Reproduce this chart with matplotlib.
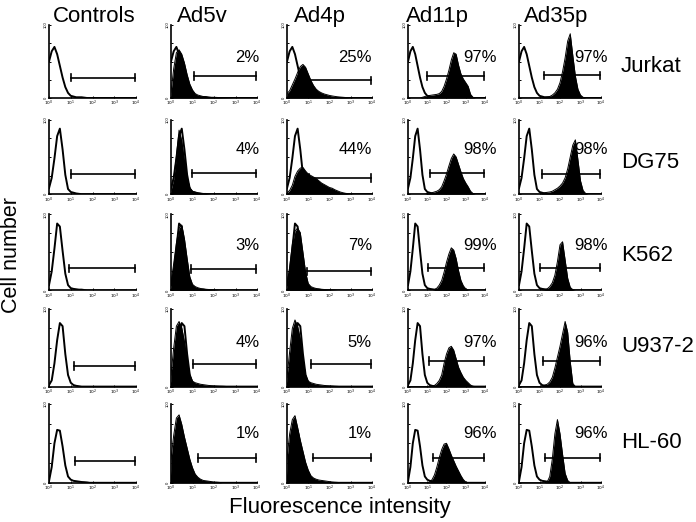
import numpy as np
import matplotlib
matplotlib.use("Agg")
import matplotlib.pyplot as plt

plt.rcParams['font.family'] = ['Liberation Sans', 'DejaVu Sans']

# ---------------- data ----------------
columns = ["Controls", "Ad5v", "Ad4p", "Ad11p", "Ad35p"]
cell_lines = ["Jurkat", "DG75", "K562", "U937-2", "HL-60"]

# histogram heights (fraction of full scale) at log10 fluorescence 0, 0.125, ... 4.0
jurkat_control = [0.50, 0.64, 0.70, 0.60, 0.44, 0.28, 0.15, 0.07,
                  0.03, 0.02, 0.01, 0.01, 0.01, 0.005, 0, 0,
                  0, 0, 0, 0, 0, 0, 0, 0,
                  0, 0, 0, 0, 0, 0, 0, 0, 0]
jurkat_ad5v = [0.08, 0.40, 0.62, 0.66, 0.60, 0.48, 0.32, 0.19,
               0.11, 0.06, 0.04, 0.03, 0.02, 0.02, 0.015, 0.01,
               0.01, 0.008, 0.006, 0.005, 0.004, 0.003, 0.002, 0,
               0, 0, 0, 0, 0, 0, 0, 0, 0]
jurkat_ad4p = [0.06, 0.10, 0.18, 0.26, 0.35, 0.43, 0.46, 0.42,
               0.33, 0.24, 0.17, 0.12, 0.09, 0.07, 0.055, 0.045,
               0.035, 0.028, 0.022, 0.017, 0.013, 0.01, 0.007, 0.005,
               0.003, 0, 0, 0, 0, 0, 0, 0, 0]
jurkat_ad11p = [0, 0, 0, 0, 0, 0, 0.01, 0.02,
                0.03, 0.035, 0.04, 0.045, 0.05, 0.06, 0.09, 0.16,
                0.26, 0.38, 0.52, 0.62, 0.60, 0.45, 0.33, 0.26,
                0.21, 0.16, 0.05, 0.01, 0, 0, 0, 0, 0]
jurkat_ad35p = [0, 0, 0, 0, 0, 0, 0, 0,
                0, 0.005, 0.01, 0.015, 0.02, 0.04, 0.07, 0.12,
                0.21, 0.36, 0.55, 0.78, 0.88, 0.58, 0.30, 0.12,
                0.04, 0.01, 0, 0, 0, 0, 0, 0, 0]

dg75_control = [0.08, 0.22, 0.48, 0.78, 0.88, 0.60, 0.26, 0.07,
                0.03, 0.02, 0.01, 0.005, 0, 0, 0, 0,
                0, 0, 0, 0, 0, 0, 0, 0,
                0, 0, 0, 0, 0, 0, 0, 0, 0]
dg75_ad5v = [0.05, 0.20, 0.50, 0.86, 0.72, 0.45, 0.22, 0.09,
             0.04, 0.03, 0.02, 0.015, 0.01, 0.01, 0.005, 0,
             0, 0, 0, 0, 0, 0, 0, 0,
             0, 0, 0, 0, 0, 0, 0, 0, 0]
dg75_ad4p = [0.02, 0.05, 0.12, 0.24, 0.31, 0.35, 0.36, 0.31,
             0.27, 0.25, 0.23, 0.21, 0.18, 0.15, 0.13, 0.11,
             0.09, 0.08, 0.06, 0.045, 0.03, 0.02, 0.012, 0.007,
             0.004, 0, 0, 0, 0, 0, 0, 0, 0]
dg75_ad11p = [0, 0, 0, 0, 0, 0, 0, 0,
              0.01, 0.015, 0.02, 0.03, 0.04, 0.06, 0.10, 0.18,
              0.27, 0.38, 0.48, 0.54, 0.50, 0.40, 0.30, 0.21,
              0.15, 0.10, 0.04, 0.01, 0, 0, 0, 0, 0]
dg75_ad35p = [0, 0, 0, 0, 0, 0, 0, 0,
              0, 0.01, 0.02, 0.025, 0.03, 0.04, 0.06, 0.08,
              0.11, 0.15, 0.22, 0.34, 0.50, 0.66, 0.73, 0.46,
              0.18, 0.05, 0.01, 0, 0, 0, 0, 0, 0]

k562_control = [0.07, 0.25, 0.55, 0.88, 0.84, 0.52, 0.22, 0.07,
                0.03, 0.02, 0.015, 0.01, 0.01, 0.005, 0, 0,
                0, 0, 0, 0, 0, 0, 0, 0,
                0, 0, 0, 0, 0, 0, 0, 0, 0]
k562_ad5v = [0.10, 0.35, 0.62, 0.82, 0.86, 0.68, 0.42, 0.18,
             0.08, 0.05, 0.035, 0.025, 0.02, 0.015, 0.012, 0.01,
             0.008, 0.005, 0, 0, 0, 0, 0, 0,
             0, 0, 0, 0, 0, 0, 0, 0, 0]
k562_ad4p = [0.08, 0.30, 0.60, 0.78, 0.82, 0.76, 0.50, 0.24,
             0.09, 0.05, 0.035, 0.025, 0.02, 0.015, 0.012, 0.01,
             0.008, 0.006, 0.004, 0, 0, 0, 0, 0,
             0, 0, 0, 0, 0, 0, 0, 0, 0]
k562_ad11p = [0, 0, 0, 0, 0, 0, 0, 0,
              0, 0, 0, 0.01, 0.03, 0.07, 0.13, 0.24,
              0.37, 0.48, 0.56, 0.53, 0.42, 0.26, 0.13, 0.06,
              0.02, 0.005, 0, 0, 0, 0, 0, 0, 0]
k562_ad35p = [0, 0, 0, 0, 0, 0, 0, 0,
              0, 0.005, 0.01, 0.02, 0.05, 0.10, 0.20, 0.38,
              0.60, 0.64, 0.40, 0.16, 0.04, 0.01, 0, 0,
              0, 0, 0, 0, 0, 0, 0, 0, 0]

u937_control = [0.02, 0.08, 0.30, 0.60, 0.82, 0.78, 0.42, 0.15,
                0.05, 0.02, 0.01, 0.005, 0, 0, 0, 0,
                0, 0, 0, 0, 0, 0, 0, 0,
                0, 0, 0, 0, 0, 0, 0, 0, 0]
u937_ad5v = [0.15, 0.50, 0.78, 0.84, 0.76, 0.58, 0.34, 0.15,
             0.07, 0.05, 0.04, 0.03, 0.025, 0.02, 0.015, 0.012,
             0.01, 0.008, 0.006, 0.005, 0.003, 0, 0, 0,
             0, 0, 0, 0, 0, 0, 0, 0, 0]
u937_ad4p = [0.12, 0.45, 0.75, 0.86, 0.78, 0.62, 0.36, 0.15,
             0.07, 0.05, 0.04, 0.03, 0.025, 0.02, 0.015, 0.012,
             0.01, 0.008, 0.005, 0.003, 0, 0, 0, 0,
             0, 0, 0, 0, 0, 0, 0, 0, 0]
u937_ad11p = [0, 0, 0, 0, 0, 0, 0, 0,
              0, 0, 0.005, 0.015, 0.04, 0.08, 0.15, 0.30,
              0.42, 0.50, 0.52, 0.47, 0.36, 0.25, 0.18, 0.12,
              0.08, 0.05, 0.02, 0.005, 0, 0, 0, 0, 0]
u937_ad35p = [0, 0, 0, 0, 0, 0, 0, 0,
              0, 0.01, 0.02, 0.03, 0.06, 0.12, 0.24, 0.38,
              0.52, 0.68, 0.84, 0.70, 0.32, 0.04, 0, 0,
              0, 0, 0, 0, 0, 0, 0, 0, 0]

hl60_control = [0.02, 0.20, 0.50, 0.67, 0.66, 0.46, 0.22, 0.08,
                0.04, 0.025, 0.02, 0.015, 0.01, 0.008, 0.005, 0,
                0, 0, 0, 0, 0, 0, 0, 0,
                0, 0, 0, 0, 0, 0, 0, 0, 0]
hl60_ad5v = [0.30, 0.60, 0.82, 0.86, 0.74, 0.58, 0.44, 0.30,
             0.19, 0.11, 0.07, 0.045, 0.03, 0.025, 0.02, 0.015,
             0.01, 0.008, 0.005, 0, 0, 0, 0, 0,
             0, 0, 0, 0, 0, 0, 0, 0, 0]
hl60_ad4p = [0.30, 0.62, 0.80, 0.85, 0.70, 0.54, 0.40, 0.26,
             0.16, 0.09, 0.06, 0.045, 0.035, 0.03, 0.025, 0.02,
             0.015, 0.01, 0.007, 0.005, 0, 0, 0, 0,
             0, 0, 0, 0, 0, 0, 0, 0, 0]
hl60_ad11p = [0, 0, 0, 0, 0, 0, 0, 0,
              0, 0.01, 0.04, 0.10, 0.20, 0.32, 0.42, 0.49,
              0.50, 0.43, 0.35, 0.28, 0.21, 0.15, 0.09, 0.04,
              0.01, 0, 0, 0, 0, 0, 0, 0, 0]
hl60_ad35p = [0, 0, 0, 0, 0, 0, 0, 0,
              0, 0, 0, 0.01, 0.08, 0.30, 0.62, 0.80,
              0.62, 0.36, 0.12, 0.03, 0, 0, 0, 0,
              0, 0, 0, 0, 0, 0, 0, 0, 0]

# percent positive cells (Ad5v, Ad4p, Ad11p, Ad35p)
jurkat_pct = ["2%", "25%", "97%", "97%"]
dg75_pct = ["4%", "44%", "98%", "98%"]
k562_pct = ["3%", "7%", "99%", "98%"]
u937_pct = ["4%", "5%", "97%", "96%"]
hl60_pct = ["1%", "1%", "96%", "96%"]

# gate start (log10 fluorescence) per panel
jurkat_gate = [1.0, 1.05, 1.0, 0.97, 1.2]
dg75_gate = [1.0, 0.99, 1.05, 1.13, 1.13]
k562_gate = [0.94, 0.94, 0.94, 1.04, 1.02]
u937_gate = [1.14, 1.0, 1.11, 1.08, 1.18]
hl60_gate = [1.2, 1.25, 1.2, 1.28, 1.28]
gate_end = 3.95

x_log = np.linspace(0, 4, 33)

controls = [jurkat_control, dg75_control, k562_control, u937_control, hl60_control]
infected = [[jurkat_ad5v, jurkat_ad4p, jurkat_ad11p, jurkat_ad35p],
            [dg75_ad5v, dg75_ad4p, dg75_ad11p, dg75_ad35p],
            [k562_ad5v, k562_ad4p, k562_ad11p, k562_ad35p],
            [u937_ad5v, u937_ad4p, u937_ad11p, u937_ad35p],
            [hl60_ad5v, hl60_ad4p, hl60_ad11p, hl60_ad35p]]
pcts = [jurkat_pct, dg75_pct, k562_pct, u937_pct, hl60_pct]
gates = [jurkat_gate, dg75_gate, k562_gate, u937_gate, hl60_gate]

# ---------------- layout (pixels) ----------------
W, H = 696, 522
fig = plt.figure(figsize=(W / 100, H / 100), dpi=100)

col_left = [49, 171, 287, 408, 519]
col_right = [136, 257, 372, 485, 601]
title_x = [94, 202, 320, 437, 556]
gate_y = [[0.28, 0.30, 0.24, 0.30, 0.31],
          [0.27, 0.28, 0.22, 0.28, 0.27],
          [0.29, 0.28, 0.25, 0.30, 0.30],
          [0.27, 0.29, 0.29, 0.33, 0.33],
          [0.28, 0.31, 0.32, 0.32, 0.32]]
pct_x = [1.03, 1.0, 1.15, 1.08]
pct_y = [0.56, 0.60, 0.59, 0.57, 0.63]


def row_top(i):
    return 25 + 94.7 * i


def row_bot(i):
    return 98 + 96.2 * i


for r in range(5):
    t, b = row_top(r), row_bot(r)
    for c in range(5):
        l, rr = col_left[c], col_right[c]
        ax = fig.add_axes([l / W, 1 - b / H, (rr - l) / W, (b - t) / H])
        if c > 0:
            y = np.array(infected[r][c - 1])
            ax.fill_between(x_log, 0, y, color="black", lw=0)
            ax.plot(x_log, y, color="black", lw=0.7)
        ax.plot(x_log, controls[r], color="black", lw=1.4)
        gs = gates[r][c]
        gy = gate_y[r][c]
        ax.plot([gs, gate_end], [gy, gy], color="black", lw=1.2)
        ax.plot([gs, gs], [gy - 0.05, gy + 0.05], color="black", lw=1.2)
        ax.plot([gate_end, gate_end], [gy - 0.05, gy + 0.05], color="black", lw=1.2)
        if c > 0:
            ax.text(pct_x[c - 1], pct_y[r], pcts[r][c - 1], transform=ax.transAxes,
                    ha="right", va="center", fontsize=12)
        ax.set_xlim(0, 4)
        ax.set_ylim(0, 1)
        ax.set_facecolor("none")
        for s in ("top", "right"):
            ax.spines[s].set_visible(False)
        for s in ("left", "bottom"):
            ax.spines[s].set_linewidth(1.2)
        ax.set_xticks([0, 1, 2, 3, 4])
        ax.set_xticklabels(["$10^0$", "$10^1$", "$10^2$", "$10^3$", "$10^4$"], fontsize=3.2)
        ax.set_yticks([0, 0.25, 0.5, 0.75, 1.0])
        ax.set_yticklabels(["0", "", "", "", "100"], fontsize=3.0, rotation=90, va="center")
        ax.tick_params(axis="both", length=1.5, width=0.7, pad=0.8, direction="in")

for c in range(5):
    fig.text(title_x[c] / W, 1 - 22 / H, columns[c], ha="center", va="baseline", fontsize=16)

label_y = [66, 163, 256, 347, 442]
for r in range(5):
    fig.text(621 / W, 1 - label_y[r] / H, cell_lines[r], ha="left", va="center", fontsize=16)

fig.text(12 / W, 1 - 255 / H, "Cell number", rotation=90, ha="center", va="center", fontsize=15.5)
fig.text(340 / W, 1 - 507 / H, "Fluorescence intensity", ha="center", va="center", fontsize=16)

fig.savefig("out.png", dpi=100, facecolor="white")
